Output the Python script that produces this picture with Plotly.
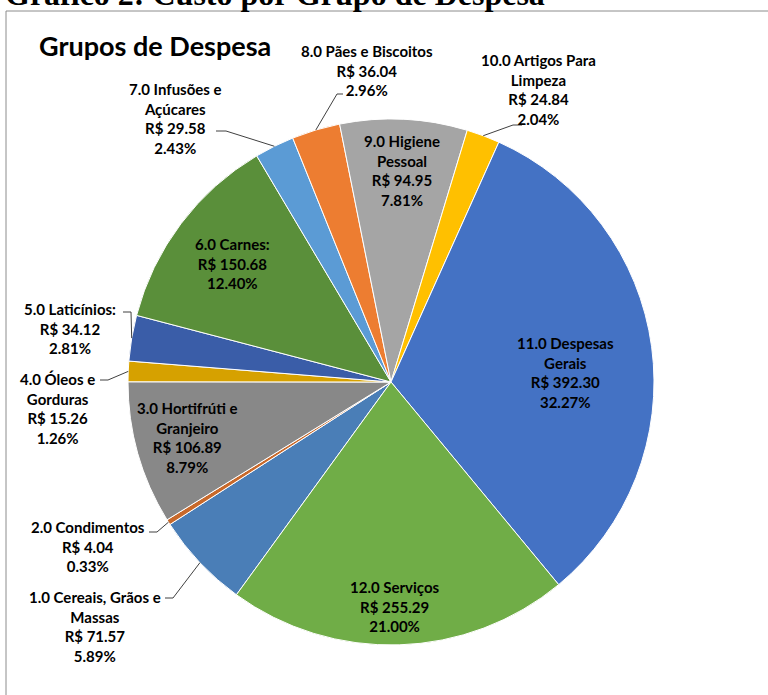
import math
import plotly.graph_objects as go

# ---- data ----
categories = [
    "1.0 Cereais, Grãos e Massas",
    "2.0 Condimentos",
    "3.0 Hortifrúti e Granjeiro",
    "4.0 Óleos e Gorduras",
    "5.0 Laticínios:",
    "6.0 Carnes:",
    "7.0 Infusões e Açúcares",
    "8.0 Pães e Biscoitos",
    "9.0 Higiene Pessoal",
    "10.0 Artigos Para Limpeza",
    "11.0 Despesas Gerais",
    "12.0 Serviços",
]
values = [71.57, 4.04, 106.89, 15.26, 34.12, 150.68, 29.58, 36.04, 94.95, 24.84, 392.30, 255.29]

# ---- style ----
W, H = 768, 695
colors = ["#4A7EB7", "#C8692B", "#888888", "#D6A100", "#3A5DA8", "#5A8F3A",
          "#5B9BD5", "#ED7D31", "#A5A5A5", "#FFC000", "#4472C4", "#70AD47"]
wrap = {
    "1.0 Cereais, Grãos e Massas": "1.0 Cereais, Grãos e<br>Massas",
    "3.0 Hortifrúti e Granjeiro": "3.0 Hortifrúti e<br>Granjeiro",
    "4.0 Óleos e Gorduras": "4.0 Óleos e<br>Gorduras",
    "7.0 Infusões e Açúcares": "7.0 Infusões e<br>Açúcares",
    "9.0 Higiene Pessoal": "9.0 Higiene<br>Pessoal",
    "10.0 Artigos Para Limpeza": "10.0 Artigos Para<br>Limpeza",
    "11.0 Despesas Gerais": "11.0 Despesas<br>Gerais",
}
CX, CY, R = 391, 382, 263      # pie centre / radius in pixels
ROT = 216                       # start angle of first slice (deg, clockwise from 12 o'clock)
# label centre (px) and, for outside labels, leader-line start + stub end (px)
label_pos = {
    0: ((95, 626), ((165, 598), (173, 598))),
    1: ((88, 546), ((149, 532), (157, 532))),
    2: ((187, 437), None),
    3: ((57, 408), ((100, 380), (108, 380))),
    4: ((70, 328), ((123, 312), (131, 312))),
    5: ((232, 263), None),
    6: ((175, 118), ((216, 131), (226, 131))),
    7: ((367, 70), ((343, 94), (337, 94))),
    8: ((402, 170), None),
    9: ((538, 90), ((522, 125), (513, 125))),
    10: ((565, 372), None),
    11: ((395, 606), None),
}
LABEL_FONT = dict(family="Lato, Calibri, sans-serif", size=15, color="black", weight="bold")


def px(x, y):
    return x / W, 1 - y / H


total = sum(values)
fig = go.Figure(go.Pie(
    labels=categories, values=values, sort=False, direction="clockwise",
    rotation=ROT, textinfo="none", hoverinfo="label+value+percent",
    marker=dict(colors=colors, line=dict(color="white", width=1)),
    domain=dict(x=[(CX - R) / W, (CX + R) / W], y=[1 - (CY + R) / H, 1 - (CY - R) / H]),
    showlegend=False,
))

annotations = []
shapes = []
cum = 0.0
for i, (cat, v) in enumerate(zip(categories, values)):
    mid = math.radians(ROT + (cum + v / 2) / total * 360)
    cum += v
    name = wrap.get(cat, cat)
    text = f"{name}<br>R$ {v:.2f}<br>{v / total * 100:.2f}%"
    (lx, ly), leader = label_pos[i]
    ax, ay = px(lx, ly)
    annotations.append(dict(x=ax, y=ay, xref="paper", yref="paper", text=text,
                            showarrow=False, xanchor="center", yanchor="middle",
                            align="center", font=LABEL_FONT))
    if leader:
        (sx, sy), (tx, ty) = leader
        ex = CX + R * math.sin(mid)
        ey = CY - R * math.cos(mid)
        p = [px(sx, sy), px(tx, ty), px(ex, ey)]
        path = "M {} {} L {} {} L {} {}".format(p[0][0], p[0][1], p[1][0], p[1][1], p[2][0], p[2][1])
        shapes.append(dict(type="path", xref="paper", yref="paper", path=path,
                           line=dict(color="#404040", width=1)))

# chart-area border
bx0, by0 = px(6, 11)
bx1, by1 = px(790, 720)
shapes.append(dict(type="rect", xref="paper", yref="paper", x0=bx0, y0=by1, x1=bx1, y1=by0,
                   line=dict(color="#8C8C8C", width=1), fillcolor="rgba(0,0,0,0)", layer="below"))

tx, ty = px(37, 45)
annotations.append(dict(x=tx, y=ty, xref="paper", yref="paper", text="Grupos de Despesa",
                        showarrow=False, xanchor="left", yanchor="middle",
                        font=dict(family="Lato, Calibri, sans-serif", size=27, color="black", weight="bold")))
gx, gy = px(3, -6)
annotations.append(dict(x=gx, y=gy, xref="paper", yref="paper",
                        text="Gráfico 2: Custo por Grupo de Despesa",
                        showarrow=False, xanchor="left", yanchor="middle",
                        font=dict(family="Liberation Serif, Times New Roman, serif", size=32,
                                  color="black", weight="bold")))

fig.update_layout(width=W, height=H, margin=dict(l=0, r=0, t=0, b=0),
                  paper_bgcolor="white", plot_bgcolor="white",
                  annotations=annotations, shapes=shapes)
fig.write_html("out.html", post_script="document.body.style.margin='0';",
               config={"displayModeBar": False})
